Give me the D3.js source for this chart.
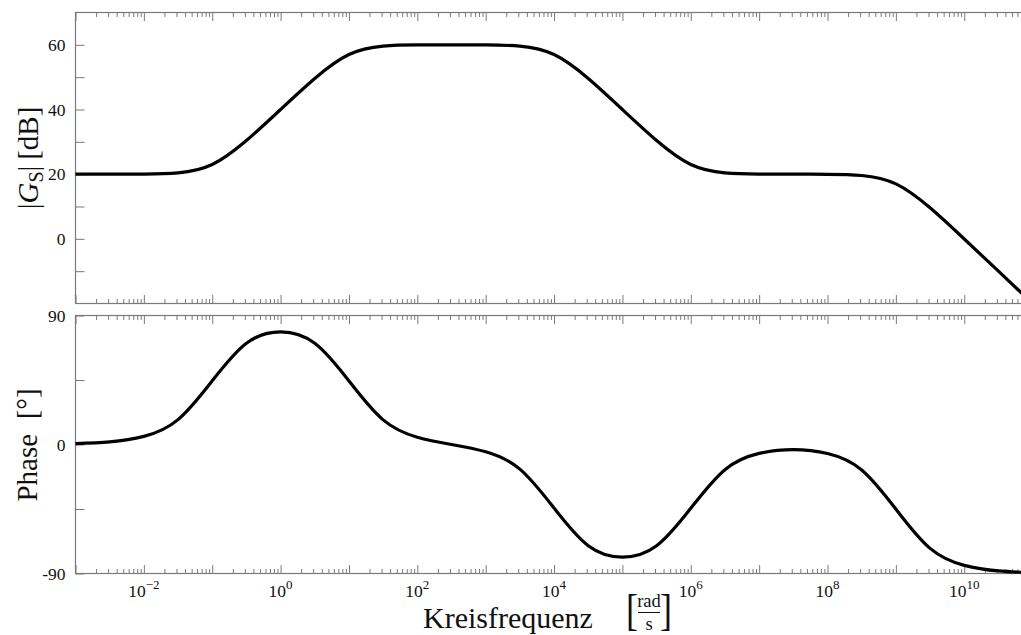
<!DOCTYPE html>
<html><head><meta charset="utf-8">
<script src="https://cdn.jsdelivr.net/npm/d3@7"></script>
<style>
body{margin:0;background:#fff;}
svg{display:block;font-family:"Liberation Serif","Times New Roman",serif;}
</style></head><body>
<svg id="chart" width="1021" height="635"></svg>
<script>
// ---- data ----
const frequencies = [1e-3, 3.162e-3, 1e-2, 3.162e-2, 1e-1, 3.162e-1, 1, 3.162, 10, 31.62, 100, 316.2,
  1e3, 3162, 1e4, 3.162e4, 1e5, 3.162e5, 1e6, 3.162e6, 1e7, 3.162e7, 1e8, 3.162e8, 1e9, 3.162e9,
  1e10, 3.162e10, 1e11];
const magnitudeDb = [20.00, 20.00, 20.04, 20.41, 23.01, 30.41, 40.00, 49.59, 56.99, 59.59, 59.96, 59.99,
  59.96, 59.59, 56.99, 49.59, 40.00, 30.41, 23.01, 20.41, 20.04, 20.00, 19.96, 19.59, 16.99, 9.59,
  -0.04, -10.00, -20.00];
const phaseDeg = [0.57, 1.79, 5.65, 17.37, 44.43, 70.64, 78.57, 70.62, 44.37, 17.19, 5.08, 0.00,
  -5.08, -17.19, -44.37, -70.62, -78.57, -70.64, -44.49, -17.55, -6.22, -3.60, -6.28, -17.73, -45.06,
  -72.47, -84.30, -88.19, -89.43];

const xLabelValues = [1e-2, 1e0, 1e2, 1e4, 1e6, 1e8, 1e10];
const xLabelExponents = ["\u22122", "0", "2", "4", "6", "8", "10"];
const magTickValues = [-10, 0, 10, 20, 30, 40, 50, 60];
const magTickLabels = ["", "0", "", "20", "", "40", "", "60"];
const phaseTickValues = [-90, -45, 0, 45, 90];
const phaseTickLabels = ["-90", "", "0", "", "90"];

const xDomain = [1e-3, 1e11];
const magDomain = [-20, 70];
const phaseDomain = [-90, 90];

// ---- layout ----
const svg = d3.select("#chart");
const left = 75.5, right = 1032.6;
const x = d3.scaleLog().domain(xDomain).range([left, right]);

const majorX = d3.range(Math.log10(xDomain[0]), Math.log10(xDomain[1]) + 1).map(e => Math.pow(10, e));
const minorX = [];
majorX.slice(0, -1).forEach(p => { for (let m = 2; m <= 9; m++) minorX.push(m * p); });

const axisColor = "#7a7a7a";
const textColor = "#111";

const panels = [
  { y: d3.scaleLinear().domain(magDomain).range([303.5, 12.5]), data: magnitudeDb,
    ticks: magTickValues, labels: magTickLabels },
  { y: d3.scaleLinear().domain(phaseDomain).range([573.5, 315.5]), data: phaseDeg,
    ticks: phaseTickValues, labels: phaseTickLabels }
];

panels.forEach((p, i) => {
  const [yb, yt] = p.y.range();
  const g = svg.append("g");

  const mkX = (axisFn, ty, vals, size) => {
    const a = g.append("g").attr("transform", `translate(0,${ty})`)
      .call(axisFn(x).tickValues(vals).tickSize(size).tickFormat(""));
    a.select(".domain").remove();
    a.selectAll("line").attr("stroke", axisColor).attr("stroke-width", 1);
  };
  mkX(d3.axisBottom, yb, majorX, -8.5);
  mkX(d3.axisBottom, yb, minorX, -4.5);
  mkX(d3.axisTop, yt, majorX, -8.5);
  mkX(d3.axisTop, yt, minorX, -4.5);

  const ya = g.append("g").attr("transform", `translate(${left},0)`)
    .call(d3.axisLeft(p.y).tickValues(p.ticks).tickSize(-9).tickPadding(10)
      .tickFormat((d, k) => p.labels[k]));
  ya.select(".domain").remove();
  ya.selectAll("line").attr("stroke", axisColor);
  ya.selectAll("text").attr("font-size", 17.5).attr("fill", textColor)
    .attr("font-family", '"Liberation Serif", serif');

  g.append("rect").attr("x", left).attr("y", yt).attr("width", right - left).attr("height", yb - yt)
    .attr("fill", "none").attr("stroke", axisColor).attr("stroke-width", 1.2);

  const line = d3.line().x((d, k) => x(frequencies[k])).y(d => p.y(d)).curve(d3.curveNatural);
  g.append("path").datum(p.data).attr("d", line)
    .attr("fill", "none").attr("stroke", "#000").attr("stroke-width", 3.2)
    .attr("stroke-linejoin", "round");
});

// x tick labels (bottom panel)
const xl = svg.append("g");
xLabelValues.forEach((v, k) => {
  const t = xl.append("text").attr("x", x(v)).attr("y", 597).attr("text-anchor", "middle")
    .attr("font-size", 17.5).attr("fill", textColor);
  t.append("tspan").text("10");
  t.append("tspan").attr("dy", -8).attr("font-size", 13).text(xLabelExponents[k]);
});

// y axis titles
const t1 = svg.append("text").attr("transform", "translate(38,158) rotate(-90)")
  .attr("text-anchor", "middle").attr("font-size", 29).attr("fill", textColor);
t1.append("tspan").text("|");
t1.append("tspan").attr("font-style", "italic").text("G");
t1.append("tspan").attr("dy", 5).attr("font-size", 20).text("S");
t1.append("tspan").attr("dy", -5).text("|\u2009[dB]");

svg.append("text").attr("transform", "translate(37,445) rotate(-90)")
  .attr("text-anchor", "middle").attr("font-size", 29).attr("fill", textColor)
  .attr("xml:space", "preserve").style("white-space", "pre").text("Phase  [°]");

// x axis title
svg.append("text").attr("x", 423).attr("y", 628).attr("font-size", 30).attr("fill", textColor)
  .text("Kreisfrequenz");
svg.append("text").attr("x", 626).attr("y", 624).attr("font-size", 36).attr("fill", textColor)
  .attr("transform", "translate(0,-130) scale(1,1.21)").text("[");
svg.append("text").attr("x", 660).attr("y", 624).attr("font-size", 36).attr("fill", textColor)
  .attr("transform", "translate(0,-130) scale(1,1.21)").text("]");
svg.append("text").attr("x", 649).attr("y", 607).attr("text-anchor", "middle").attr("font-size", 18.5)
  .attr("fill", textColor).text("rad");
svg.append("line").attr("x1", 638).attr("x2", 660).attr("y1", 612.5).attr("y2", 612.5)
  .attr("stroke", textColor).attr("stroke-width", 1);
svg.append("text").attr("x", 649).attr("y", 630).attr("text-anchor", "middle").attr("font-size", 18.5)
  .attr("fill", textColor).text("s");
</script>
</body></html>
